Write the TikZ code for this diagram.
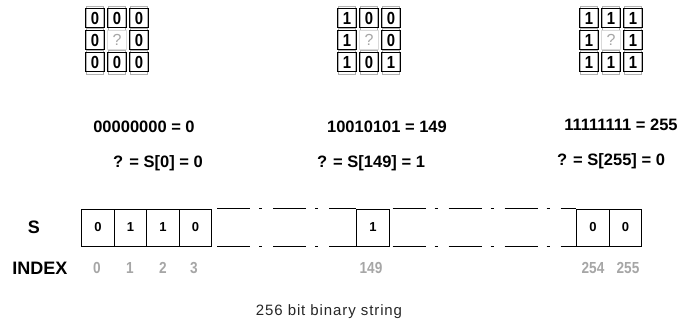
\documentclass[tikz,border=0pt]{standalone}
\usepackage{fontspec}
\setmainfont{Liberation Sans}
\newfontfamily\cellfont[FakeStretch=0.85]{Liberation Sans Bold}
\newfontfamily\labelfont{Liberation Sans Bold}
\newfontfamily\titlefont[LetterSpace=6]{Liberation Sans}
\begin{document}
\begin{tikzpicture}[x=1pt,y=-1pt,
  cellbox/.style={draw=black,line width=1.5pt,minimum width=19pt,minimum height=19pt,
    inner sep=0pt,font=\cellfont\fontsize{17.5}{17.5}\selectfont,
    append after command={\pgfextra{\draw[gray!60,line width=0.5pt]
      ([shift={(1.6pt,-1.6pt)}]\tikzlastnode.south west) rectangle ([shift={(-1.6pt,1.6pt)}]\tikzlastnode.north east);}}},
  qbox/.style={draw=gray!30,line width=0.8pt,minimum width=19pt,minimum height=19pt,
    inner sep=0pt,text=gray!70,font=\fontsize{16}{16}\selectfont},
  label/.style={font=\labelfont\fontsize{16.5}{16.5}\selectfont,inner sep=0pt},
  bitbox/.style={draw=black,line width=0.9pt,minimum width=32.5pt,minimum height=37pt,
    inner sep=0pt,font=\labelfont\fontsize{13}{13}\selectfont},
  idx/.style={font=\cellfont\fontsize{16}{16}\selectfont,text=gray!70,inner sep=0pt},
  gapline/.style={line width=0.8pt,dash pattern=on 33pt off 9pt on 3pt off 11pt}]
\useasboundingbox (0,0) rectangle (679,335);

% 3x3 neighbourhoods: top row / left, right of middle row / bottom row
\foreach \g/\cx/\ta/\tb/\tc/\ml/\mr/\ba/\bb/\bc in
  {a/117/0/0/0/0/0/0/0/0, b/369/1/0/0/1/0/1/0/1, c/611/1/1/1/1/1/1/1/1}{
  \node[cellbox] (\g11) at (\cx-22,18) {\ta};
  \node[cellbox] (\g12) at (\cx,18) {\tb};
  \node[cellbox] (\g13) at (\cx+22,18) {\tc};
  \node[cellbox] (\g21) at (\cx-22,40) {\ml};
  \node[qbox]    (\g22) at (\cx,40) {?};
  \node[cellbox] (\g23) at (\cx+22,40) {\mr};
  \node[cellbox] (\g31) at (\cx-22,62) {\ba};
  \node[cellbox] (\g32) at (\cx,62) {\bb};
  \node[cellbox] (\g33) at (\cx+22,62) {\bc};
}

% codes and lookups
\node[label] (codeA) at (144,127) {00000000 = 0};
\node[label] (codeB) at (387,127) {10010101 = 149};
\node[label] (codeC) at (621,125) {11111111 = 255};
\node[label] (lookA) at (158,163) {? = S[0] = 0};
\node[label] (lookB) at (371,163) {? = S[149] = 1};
\node[label] (lookC) at (611,161) {? = S[255] = 0};

% the bit string
\node[label,font=\labelfont\fontsize{18}{18}\selectfont] (sname) at (34,227) {S};
\node[label,font=\labelfont\fontsize{18}{18}\selectfont] (iname) at (40,268) {INDEX};
\node[bitbox] (b0) at (98,227.5) {0};
\node[bitbox] (b1) at (130.5,227.5) {1};
\node[bitbox] (b2) at (163,227.5) {1};
\node[bitbox] (b3) at (195.5,227.5) {0};
\node[bitbox] (b149) at (373,227.5) {1};
\node[bitbox] (b254) at (593,227.5) {0};
\node[bitbox] (b255) at (625.5,227.5) {0};

\draw[gapline] ([xshift=5pt]b3.north east) -- (b149.north west);
\draw[gapline] ([xshift=5pt]b3.south east) -- (b149.south west);
\draw[gapline] ([xshift=3pt]b149.north east) -- (b254.north west);
\draw[gapline] ([xshift=3pt]b149.south east) -- (b254.south west);

\node[idx] (i0) at (97,268) {0};
\node[idx] (i1) at (130,268) {1};
\node[idx] (i2) at (163,268) {2};
\node[idx] (i3) at (194,268) {3};
\node[idx] (i149) at (371,268) {149};
\node[idx] (i254) at (593,268) {254};
\node[idx] (i255) at (628,268) {255};

\node[font=\titlefont\fontsize{15}{15}\selectfont,text=black!85,inner sep=0pt] (title) at (329,312) {256 bit binary string};
\end{tikzpicture}
\end{document}
